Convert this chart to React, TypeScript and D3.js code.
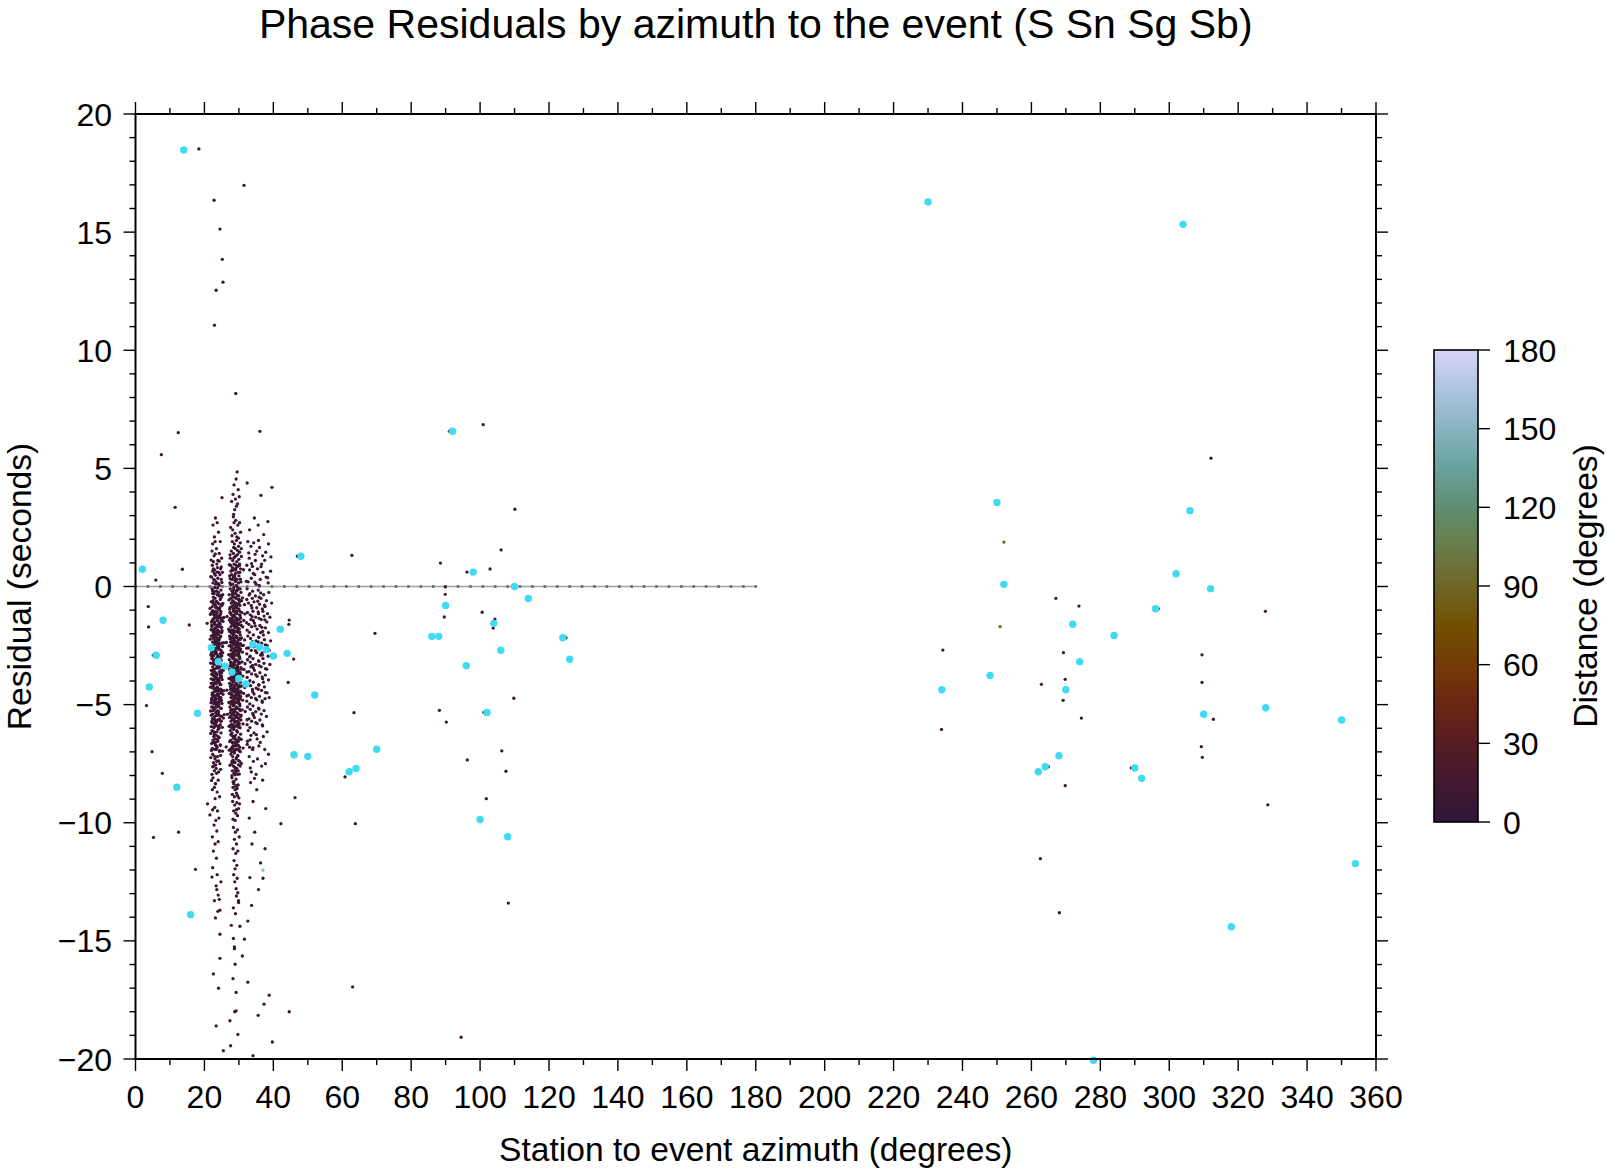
import React from "react";
import * as d3 from "d3";

// ---------------- DATA ----------------
// Dense cluster, column A (azimuth, residual) pairs
const clusterA = [
  23.2,2.9, 22.5,2.6, 24.1,2.3, 22.9,2.1, 23.7,2.7,
  22.4,1.8, 23.5,1.6, 24.6,1.9, 22.8,1.3, 23.9,1.1, 22.2,1.5, 24.3,1.4, 23.1,1.9, 25.0,1.2, 22.6,1.05,
  22.3,0.9, 23.0,0.7, 23.8,0.8, 24.5,0.5, 22.7,0.3, 23.4,0.2, 24.1,0.6, 22.1,0.4, 23.6,0.95, 24.9,0.3, 22.9,0.55, 23.3,0.1, 24.7,0.75, 22.5,0.15, 23.9,0.35, 25.2,0.6, 22.4,0.65, 24.3,0.05,
  22.2,-0.1, 22.8,-0.3, 23.5,-0.2, 24.2,-0.4, 24.8,-0.15, 22.5,-0.6, 23.1,-0.5, 23.9,-0.7, 24.6,-0.55, 22.3,-0.85, 23.3,-0.9, 24.0,-0.95, 25.1,-0.8, 22.6,-0.45, 23.7,-0.35, 24.4,-0.75, 22.0,-0.65, 23.0,-0.05, 24.9,-0.45, 23.6,-0.65, 22.9,-0.75, 24.1,-0.25, 22.4,-0.3, 25.3,-0.35, 23.2,-0.8, 24.5,-0.9,
  22.1,-1.1, 22.7,-1.2, 23.4,-1.05, 24.0,-1.3, 24.7,-1.15, 22.4,-1.4, 23.0,-1.5, 23.8,-1.45, 24.5,-1.6, 25.2,-1.35, 22.2,-1.7, 22.9,-1.8, 23.6,-1.65, 24.3,-1.9, 24.9,-1.75, 22.6,-1.95, 23.3,-1.3, 23.9,-1.85, 22.5,-1.05, 24.2,-1.55, 23.1,-1.25, 22.0,-1.5, 23.7,-1.1, 24.6,-1.25, 22.8,-1.6, 23.5,-1.9, 24.1,-1.7, 22.3,-1.85, 25.0,-1.95, 23.2,-1.75, 24.8,-1.45, 22.7,-1.35,
  22.0,-2.1, 22.6,-2.2, 23.2,-2.05, 23.9,-2.3, 24.5,-2.15, 25.1,-2.4, 22.3,-2.5, 22.9,-2.45, 23.5,-2.6, 24.2,-2.55, 24.8,-2.7, 22.1,-2.8, 22.7,-2.9, 23.4,-2.75, 24.0,-2.95, 24.6,-2.85, 23.0,-2.35, 23.7,-2.2, 22.5,-2.65, 24.3,-2.25, 22.8,-2.05, 23.6,-2.85, 24.9,-2.95, 22.4,-2.35, 23.1,-2.7, 23.8,-2.5, 24.4,-2.45, 22.2,-2.95, 23.3,-2.3, 24.7,-2.1, 22.9,-2.75, 23.5,-2.15, 24.1,-2.65, 22.6,-2.55, 25.3,-2.8,
  22.1,-3.05, 22.7,-3.15, 23.3,-3.1, 24.0,-3.25, 24.6,-3.2, 25.2,-3.35, 22.4,-3.4, 23.0,-3.5, 23.6,-3.45, 24.3,-3.6, 24.9,-3.55, 22.2,-3.7, 22.8,-3.8, 23.5,-3.75, 24.1,-3.9, 24.7,-3.85, 22.5,-3.95, 23.2,-3.65, 23.9,-3.3, 22.0,-3.55, 23.7,-3.95, 24.4,-3.15, 22.9,-3.3, 23.4,-3.85, 24.2,-3.45, 22.6,-3.6, 23.1,-3.9, 23.8,-3.05, 24.5,-3.75, 22.3,-3.25, 25.0,-3.65, 23.0,-3.2, 24.8,-3.1, 22.7,-3.5, 23.6,-3.7,
  22.0,-4.1, 22.6,-4.2, 23.2,-4.05, 23.9,-4.3, 24.5,-4.15, 25.1,-4.4, 22.3,-4.5, 22.9,-4.45, 23.5,-4.6, 24.2,-4.55, 24.8,-4.7, 22.1,-4.8, 22.7,-4.9, 23.4,-4.75, 24.0,-4.95, 24.6,-4.85, 23.0,-4.35, 23.7,-4.25, 22.5,-4.65, 24.3,-4.05, 22.8,-4.6, 23.6,-4.9, 24.9,-4.5, 22.4,-4.3, 23.1,-4.7, 23.8,-4.55, 24.4,-4.85, 22.2,-4.25, 23.3,-4.95, 24.7,-4.35, 22.9,-4.8, 23.5,-4.1, 24.1,-4.65,
  22.1,-5.1, 22.8,-5.2, 23.4,-5.05, 24.1,-5.3, 24.7,-5.15, 22.4,-5.4, 23.0,-5.5, 23.7,-5.45, 24.4,-5.6, 25.0,-5.5, 22.2,-5.7, 22.9,-5.8, 23.5,-5.75, 24.2,-5.9, 22.6,-5.95, 23.3,-5.35, 23.9,-5.65, 24.6,-5.85, 22.0,-5.45, 23.1,-5.9, 23.8,-5.25, 24.9,-5.7, 22.7,-5.6, 23.6,-5.1, 24.3,-5.45, 22.5,-5.25, 23.2,-5.65, 24.0,-5.95,
  22.2,-6.1, 22.9,-6.25, 23.6,-6.15, 24.3,-6.4, 22.5,-6.5, 23.2,-6.6, 23.9,-6.55, 24.6,-6.7, 22.3,-6.85, 23.0,-6.9, 23.7,-6.8, 24.4,-6.95, 22.7,-6.35, 23.4,-6.3, 24.0,-6.05, 22.1,-6.65, 23.5,-6.75, 24.8,-6.2, 22.8,-6.6, 23.1,-6.45,
  22.4,-7.1, 23.1,-7.3, 23.8,-7.2, 24.5,-7.5, 22.7,-7.6, 23.4,-7.7, 24.1,-7.85, 22.2,-7.95, 23.6,-7.4, 22.9,-7.8, 24.7,-7.15, 23.3,-7.55,
  22.5,-8.1, 23.2,-8.35, 24.0,-8.2, 22.3,-8.6, 23.7,-8.7, 24.4,-8.9, 22.9,-8.5, 23.1,-8.98,
  20.9,-9.2, 23.0,-9.35, 23.8,-9.5, 21.6,-9.67, 24.2,-9.8, 23.3,-9.9, 22.4,-9.45,
  22.8,-10.1, 23.6,-10.35, 22.3,-10.6, 24.0,-10.8, 23.1,-10.9,
  22.6,-11.2, 23.5,-11.5, 22.4,-11.9, 22.2,-12.3, 23.7,-12.2, 24.8,-12.5, 23.4,-12.67, 23.6,-12.83, 24.0,-13.06, 24.3,-13.24,
  23.2,-14.03, 24.5,-13.7, 23.9,-13.75, 24.5,-14.72, 24.5,-15.74, 22.9,-13.3,
  24.1,-17.0, 25.5,-19.65, 22.6,-16.4, 23.4,-18.6,
];

// Dense cluster, column B (azimuth, residual) pairs
const clusterB = [
  29.5,4.85, 29.2,4.55, 28.6,4.3, 29.8,4.1,
  28.3,3.9, 29.0,3.7, 29.6,3.5, 28.8,3.25, 30.1,3.8, 28.5,3.05, 29.3,3.4, 27.9,3.6,
  28.4,2.95, 29.1,2.8, 29.7,2.6, 28.2,2.4, 28.9,2.25, 30.2,2.7, 27.6,2.5, 29.4,2.1, 28.6,2.7, 30.5,2.3, 29.9,2.05, 28.0,2.15,
  28.1,1.9, 28.7,1.8, 29.3,1.95, 29.9,1.7, 30.4,1.85, 27.8,1.5, 28.4,1.4, 29.0,1.6, 29.6,1.35, 30.2,1.45, 27.5,1.2, 28.2,1.1, 28.8,1.25, 29.4,1.05, 30.0,1.15, 30.7,1.6, 28.5,1.65, 29.2,1.3,
  27.6,0.9, 28.1,0.8, 28.6,0.95, 29.1,0.7, 29.7,0.85, 30.3,0.6, 27.9,0.5, 28.4,0.4, 29.0,0.55, 29.5,0.3, 30.0,0.45, 30.6,0.2, 27.4,0.15, 28.2,0.1, 28.8,0.25, 29.3,0.05, 29.9,0.15, 30.5,0.75, 27.7,0.65, 28.5,0.7, 29.2,0.9, 29.8,0.6, 28.0,0.3, 28.9,0.35, 30.2,0.95, 27.3,0.45,
  27.5,-0.1, 28.0,-0.2, 28.5,-0.05, 29.0,-0.3, 29.5,-0.15, 30.0,-0.4, 30.6,-0.25, 27.7,-0.5, 28.2,-0.6, 28.7,-0.45, 29.2,-0.7, 29.8,-0.55, 30.3,-0.8, 27.4,-0.9, 27.9,-0.85, 28.4,-0.95, 28.9,-0.75, 29.4,-0.9, 30.0,-0.95, 30.8,-0.6, 28.1,-0.35, 28.6,-0.65, 29.1,-0.5, 29.6,-0.4, 30.4,-0.1, 27.8,-0.7, 28.3,-0.25, 28.8,-0.9, 29.3,-0.2, 29.9,-0.75, 27.2,-0.35, 30.1,-0.55, 28.5,-0.8, 29.7,-0.05,
  27.4,-1.1, 27.9,-1.2, 28.4,-1.05, 28.9,-1.3, 29.4,-1.15, 29.9,-1.4, 30.4,-1.25, 27.6,-1.5, 28.1,-1.6, 28.6,-1.45, 29.1,-1.7, 29.6,-1.55, 30.1,-1.8, 30.7,-1.65, 27.3,-1.9, 27.8,-1.85, 28.3,-1.95, 28.8,-1.75, 29.3,-1.9, 29.8,-1.95, 30.3,-1.05, 27.5,-1.35, 28.0,-1.4, 28.5,-1.65, 29.0,-1.55, 29.5,-1.35, 30.0,-1.6, 30.5,-1.5, 28.2,-1.85, 28.7,-1.2, 29.2,-1.1, 29.7,-1.75, 27.7,-1.7, 28.3,-1.3, 28.9,-1.9, 29.4,-1.45, 30.2,-1.2, 27.9,-1.55, 28.6,-1.0, 29.6,-1.85,
  27.3,-2.1, 27.8,-2.2, 28.3,-2.05, 28.8,-2.3, 29.3,-2.15, 29.8,-2.4, 30.3,-2.25, 30.8,-2.5, 27.5,-2.5, 28.0,-2.6, 28.5,-2.45, 29.0,-2.7, 29.5,-2.55, 30.0,-2.8, 30.5,-2.65, 27.4,-2.9, 27.9,-2.85, 28.4,-2.95, 28.9,-2.75, 29.4,-2.9, 29.9,-2.95, 30.4,-2.05, 27.6,-2.35, 28.1,-2.4, 28.6,-2.65, 29.1,-2.55, 29.6,-2.35, 30.1,-2.6, 28.2,-2.85, 28.7,-2.2, 29.2,-2.1, 29.7,-2.75, 27.7,-2.7, 28.3,-2.3, 28.9,-2.9, 29.4,-2.45, 30.2,-2.2, 27.9,-2.55, 28.6,-2.0, 29.6,-2.85, 28.0,-2.15, 29.0,-2.35, 29.9,-2.5, 28.5,-2.75,
  27.2,-3.1, 27.7,-3.2, 28.2,-3.05, 28.7,-3.3, 29.2,-3.15, 29.7,-3.4, 30.2,-3.25, 30.7,-3.5, 27.4,-3.5, 27.9,-3.6, 28.4,-3.45, 28.9,-3.7, 29.4,-3.55, 29.9,-3.8, 30.4,-3.65, 27.3,-3.9, 27.8,-3.85, 28.3,-3.95, 28.8,-3.75, 29.3,-3.9, 29.8,-3.95, 30.3,-3.05, 27.5,-3.35, 28.0,-3.4, 28.5,-3.65, 29.0,-3.55, 29.5,-3.35, 30.0,-3.6, 28.1,-3.85, 28.6,-3.2, 29.1,-3.1, 29.6,-3.75, 27.6,-3.7, 28.2,-3.3, 28.8,-3.9, 29.3,-3.45, 30.1,-3.2, 27.8,-3.55, 28.5,-3.0, 29.5,-3.85, 28.9,-3.15, 29.8,-3.5, 28.4,-3.75, 30.5,-3.9,
  27.3,-4.1, 27.8,-4.2, 28.3,-4.05, 28.8,-4.3, 29.3,-4.15, 29.8,-4.4, 30.3,-4.25, 30.8,-4.5, 27.5,-4.5, 28.0,-4.6, 28.5,-4.45, 29.0,-4.7, 29.5,-4.55, 30.0,-4.8, 30.5,-4.65, 27.4,-4.9, 27.9,-4.85, 28.4,-4.95, 28.9,-4.75, 29.4,-4.9, 29.9,-4.95, 30.4,-4.05, 27.6,-4.35, 28.1,-4.4, 28.6,-4.65, 29.1,-4.55, 29.6,-4.35, 30.1,-4.6, 28.2,-4.85, 28.7,-4.2, 29.2,-4.1, 29.7,-4.75, 27.7,-4.7, 28.3,-4.3, 28.9,-4.9, 29.4,-4.45, 30.2,-4.2, 27.9,-4.55, 28.6,-4.0, 29.6,-4.85, 28.0,-4.15, 29.0,-4.35, 29.9,-4.5, 28.5,-4.75,
  27.4,-5.1, 27.9,-5.2, 28.4,-5.05, 28.9,-5.3, 29.4,-5.15, 29.9,-5.4, 30.4,-5.25, 27.6,-5.5, 28.1,-5.6, 28.6,-5.45, 29.1,-5.7, 29.6,-5.55, 30.1,-5.8, 30.6,-5.65, 27.3,-5.9, 27.8,-5.85, 28.3,-5.95, 28.8,-5.75, 29.3,-5.9, 29.8,-5.95, 30.3,-5.05, 27.5,-5.35, 28.0,-5.4, 28.5,-5.65, 29.0,-5.55, 29.5,-5.35, 30.0,-5.6, 28.2,-5.85, 28.7,-5.2, 29.2,-5.1, 29.7,-5.75, 27.7,-5.7, 28.3,-5.3, 28.9,-5.9, 29.4,-5.45, 30.2,-5.2, 27.9,-5.55, 28.6,-5.0, 29.6,-5.85, 30.5,-5.5,
  27.5,-6.1, 28.0,-6.2, 28.5,-6.05, 29.0,-6.3, 29.5,-6.15, 30.0,-6.4, 30.5,-6.25, 27.7,-6.5, 28.2,-6.6, 28.7,-6.45, 29.2,-6.7, 29.7,-6.55, 30.2,-6.8, 27.6,-6.9, 28.1,-6.85, 28.6,-6.95, 29.1,-6.75, 29.6,-6.9, 30.1,-6.95, 28.3,-6.35, 28.8,-6.4, 29.3,-6.65, 29.8,-6.55, 27.9,-6.3, 28.4,-6.75, 28.9,-6.6, 29.4,-6.1, 30.3,-6.45, 28.0,-6.8, 29.0,-6.9,
  27.7,-7.1, 28.2,-7.2, 28.7,-7.05, 29.2,-7.3, 29.7,-7.15, 30.2,-7.4, 27.9,-7.5, 28.4,-7.6, 28.9,-7.45, 29.4,-7.7, 29.9,-7.55, 28.1,-7.8, 28.6,-7.9, 29.1,-7.85, 29.6,-7.95, 28.3,-7.35, 28.8,-7.65, 29.3,-7.25, 29.8,-7.8, 28.0,-7.4, 29.0,-7.75, 30.4,-7.6,
  28.0,-8.1, 28.6,-8.25, 29.2,-8.15, 29.8,-8.4, 28.3,-8.5, 28.9,-8.6, 29.5,-8.55, 28.1,-8.8, 28.7,-8.9, 29.3,-8.75, 30.0,-8.95, 28.5,-8.35, 29.1,-8.45, 29.6,-8.85,
  28.2,-9.1, 28.8,-9.25, 29.4,-9.15, 29.9,-9.4, 28.5,-9.5, 29.1,-9.6, 29.6,-9.7, 28.3,-9.85, 28.9,-9.9, 29.3,-9.45, 30.2,-9.2,
  28.4,-10.2, 29.0,-10.4, 29.6,-10.3, 28.7,-10.7, 29.3,-10.9, 28.3,-11.1, 29.1,-11.3, 29.7,-11.2, 28.6,-11.6, 29.4,-11.8, 28.9,-11.95, 30.1,-10.6,
  29.2,-12.79, 29.7,-12.96, 29.3,-13.1, 29.9,-13.3, 29.9,-13.38, 28.5,-12.2, 28.8,-12.5, 29.5,-12.35, 28.4,-13.6, 29.0,-13.85,
  27.8,-14.34, 30.3,-14.38, 28.4,-14.9, 31.6,-14.93, 28.7,-15.25, 28.7,-15.33, 28.9,-15.99, 31.0,-15.64,
  29.2,-17.18, 28.8,-18.0, 29.2,-17.96, 27.4,-18.38, 29.7,-18.96, 27.6,-19.44, 28.3,-16.6,
];

// Dense cluster, column C (azimuth, residual) pairs
const clusterC = [
  32.4,4.38, 36.4,3.86, 39.6,4.2, 34.5,2.9, 35.6,2.6, 33.1,2.4, 37.2,2.2, 38.4,2.75,
  32.6,1.9, 33.5,1.7, 34.3,1.85, 35.2,1.5, 36.0,1.65, 36.9,1.3, 37.8,1.45, 33.0,1.2, 34.8,1.1, 38.6,1.8, 35.7,1.95, 39.3,1.25,
  32.3,0.9, 33.1,0.7, 33.9,0.85, 34.6,0.5, 35.4,0.75, 36.2,0.3, 37.0,0.6, 37.9,0.4, 32.7,0.2, 33.6,0.35, 35.0,0.1, 36.6,0.95, 38.5,0.15, 34.2,0.55, 39.2,0.65, 35.9,0.05,
  32.4,-0.1, 33.2,-0.3, 34.0,-0.2, 34.8,-0.4, 35.6,-0.15, 36.4,-0.5, 37.2,-0.35, 38.0,-0.6, 32.8,-0.7, 33.6,-0.8, 34.4,-0.65, 35.2,-0.9, 36.0,-0.75, 36.8,-0.95, 37.6,-0.85, 38.7,-0.25, 33.9,-0.5, 35.9,-0.45, 39.5,-0.7, 32.3,-0.55,
  32.5,-1.1, 33.3,-1.2, 34.1,-1.05, 34.9,-1.3, 35.7,-1.15, 36.5,-1.4, 37.3,-1.25, 38.1,-1.5, 32.9,-1.6, 33.7,-1.7, 34.5,-1.55, 35.3,-1.8, 36.1,-1.65, 36.9,-1.9, 37.7,-1.75, 38.6,-1.95, 32.4,-1.85, 34.2,-1.45, 35.9,-1.35, 37.0,-1.05, 39.0,-1.3, 33.5,-1.4, 36.3,-1.95, 38.3,-1.15,
  32.6,-2.1, 33.4,-2.2, 34.2,-2.05, 35.0,-2.3, 35.8,-2.15, 36.6,-2.4, 37.4,-2.25, 38.2,-2.5, 32.8,-2.6, 33.6,-2.7, 34.4,-2.55, 35.2,-2.8, 36.0,-2.65, 36.8,-2.9, 37.6,-2.75, 38.5,-2.95, 32.3,-2.85, 34.0,-2.45, 35.6,-2.35, 37.1,-2.05, 39.2,-2.3, 33.3,-2.95, 36.3,-2.9, 38.8,-2.7,
  32.5,-3.1, 33.3,-3.2, 34.1,-3.05, 34.9,-3.3, 35.7,-3.15, 36.5,-3.4, 37.3,-3.25, 38.1,-3.5, 32.9,-3.6, 33.7,-3.7, 34.5,-3.55, 35.3,-3.8, 36.1,-3.65, 36.9,-3.9, 37.7,-3.75, 38.6,-3.95, 32.4,-3.85, 34.2,-3.45, 35.9,-3.35, 37.0,-3.05, 39.0,-3.3, 33.5,-3.4,
  32.6,-4.1, 33.4,-4.2, 34.2,-4.05, 35.0,-4.3, 35.8,-4.15, 36.6,-4.4, 37.4,-4.25, 38.2,-4.5, 32.8,-4.6, 33.6,-4.7, 34.4,-4.55, 35.2,-4.8, 36.0,-4.65, 36.8,-4.9, 37.6,-4.75, 32.3,-4.85, 34.0,-4.45, 35.6,-4.35, 37.1,-4.05, 38.8,-4.7,
  32.5,-5.1, 33.3,-5.2, 34.1,-5.05, 34.9,-5.3, 35.7,-5.15, 36.5,-5.4, 37.3,-5.25, 32.9,-5.6, 33.7,-5.7, 34.5,-5.55, 35.3,-5.8, 36.1,-5.65, 36.9,-5.9, 38.0,-5.5, 32.4,-5.85, 34.2,-5.45,
  32.7,-6.1, 33.5,-6.3, 34.4,-6.2, 35.3,-6.45, 36.2,-6.6, 37.1,-6.35, 33.1,-6.8, 34.0,-6.9, 35.8,-6.75, 37.5,-6.9, 32.5,-6.55, 38.2,-6.15,
  33.0,-7.2, 34.2,-7.4, 35.4,-7.3, 36.6,-7.6, 33.6,-7.85, 35.0,-7.95, 37.7,-7.5, 38.6,-7.1,
  33.4,-8.3, 35.2,-8.6, 36.9,-8.2, 34.1,-9.1, 37.8,-9.4, 33.0,-9.8,
  35.7,-12.83, 37.0,-12.35, 33.2,-12.32, 34.6,-10.4, 37.6,-11.1, 36.3,-11.7, 33.8,-10.9,
  32.6,-14.16, 32.6,-16.75, 38.8,-17.3, 37.3,-17.68, 35.6,-18.15, 34.1,-19.86, 39.7,-19.28, 33.7,-13.5,
];

// Additional cluster points across all three columns (azimuth, residual)
const clusterFill = [
  21.96,1.12, 22.57,0.74, 23.14,1.38, 23.71,0.61, 24.28,1.07, 24.88,0.83, 27.21,0.92, 27.44,1.34, 27.97,0.68, 28.53,1.21, 29.09,0.77, 29.64,1.52, 30.19,0.89, 30.73,1.27, 31.34,0.71, 32.86,1.42, 33.69,0.97, 34.71,1.36, 36.42,0.84, 37.49,1.11,
  21.85,0.42, 22.37,-0.18, 22.93,0.27, 23.48,-0.63, 24.06,0.12, 24.72,-0.38, 25.34,-0.72, 22.71,-0.21, 27.48,0.33, 27.12,-0.57, 27.63,0.08, 28.27,-0.43, 28.74,0.46, 29.38,-0.82, 29.86,-0.12, 30.44,0.31, 31.07,-0.48, 31.62,-0.77, 32.18,0.22, 32.97,-0.36, 33.78,-0.91, 34.67,0.18, 35.48,-0.62, 36.33,-0.27, 37.44,-0.79, 38.36,0.37, 21.64,-0.93, 22.61,-0.71, 23.17,0.48, 23.83,-0.06, 24.38,-0.99, 25.07,0.17, 23.61,-0.88, 28.12,-0.33, 27.37,-0.96, 28.03,-0.69, 28.51,-0.14, 29.04,0.21, 29.61,-0.37, 30.17,-0.66,
  21.72,-1.18, 22.26,-1.47, 22.84,-1.12, 23.39,-1.76, 23.96,-1.23, 24.55,-1.58, 25.13,-1.87, 25.68,-1.31, 24.22,-1.66, 29.11,-1.09, 27.24,-1.42, 27.81,-1.97, 28.35,-1.27, 28.92,-1.61, 29.47,-1.03, 29.98,-1.79, 30.53,-1.34, 31.12,-1.71, 31.74,-1.16, 32.23,-1.53, 33.06,-1.94, 33.84,-1.28, 34.73,-1.67, 35.61,-1.08, 36.68,-1.73, 37.53,-1.41, 21.93,-1.83, 22.47,-1.02, 23.06,-1.59, 23.61,-1.36, 24.23,-1.94, 24.81,-1.06, 25.42,-1.48, 23.51,-1.96, 26.58,-1.27, 27.06,-1.81, 27.57,-1.14, 28.14,-1.52, 28.63,-1.89, 29.21,-1.38, 29.73,-1.62, 30.29,-1.93, 30.86,-1.11, 31.43,-1.44, 22.14,-1.63, 22.72,-1.88, 23.27,-1.21, 23.74,-1.93, 24.44,-1.33, 25.01,-1.72,
  21.68,-2.23, 22.19,-2.56, 22.77,-2.12, 23.31,-2.84, 23.88,-2.31, 24.47,-2.67, 25.04,-2.93, 25.59,-2.38, 22.56,-2.74, 28.71,-2.17, 27.18,-2.51, 27.72,-2.96, 28.29,-2.36, 28.83,-2.69, 29.36,-2.11, 29.91,-2.87, 30.48,-2.42, 31.04,-2.78, 31.66,-2.26, 32.28,-2.61, 33.12,-2.98, 33.91,-2.33, 34.81,-2.72, 35.72,-2.14, 36.71,-2.81, 37.68,-2.47, 21.87,-2.89, 22.43,-2.07, 22.99,-2.64, 23.56,-2.41, 24.14,-2.99, 24.68,-2.13, 25.27,-2.54, 24.03,-2.03, 26.37,-2.37, 27.03,-2.88, 27.46,-2.21, 28.01,-2.58, 28.56,-2.92, 29.11,-2.44, 29.67,-2.68, 30.22,-2.97, 30.76,-2.18, 31.31,-2.49, 22.08,-2.71, 22.66,-2.94, 23.21,-2.28, 23.77,-2.97, 24.33,-2.39, 24.93,-2.79, 27.84,-2.32, 28.44,-2.83, 29.27,-2.57, 29.82,-2.24, 30.37,-2.71,
  21.77,-3.24, 22.29,-3.57, 22.86,-3.13, 23.42,-3.86, 23.99,-3.32, 24.58,-3.68, 25.16,-3.94, 25.72,-3.39, 22.64,-3.76, 28.84,-3.18, 27.28,-3.52, 27.86,-3.97, 28.39,-3.37, 28.96,-3.71, 29.52,-3.12, 30.04,-3.88, 30.61,-3.43, 31.16,-3.79, 31.79,-3.27, 32.34,-3.62, 33.19,-3.99, 33.97,-3.34, 34.88,-3.73, 35.79,-3.16, 36.77,-3.83, 37.72,-3.48, 21.96,-3.91, 22.52,-3.08, 23.09,-3.66, 23.64,-3.42, 24.26,-3.98, 24.86,-3.14, 25.47,-3.55, 23.54,-3.04, 26.62,-3.38, 27.14,-3.89, 27.61,-3.22, 28.18,-3.59, 28.68,-3.93, 29.26,-3.46, 29.78,-3.69, 30.33,-3.96, 30.91,-3.19, 31.47,-3.51, 22.17,-3.72, 22.76,-3.95, 23.33,-3.29, 23.81,-3.98, 24.41,-3.41, 24.97,-3.81, 27.91,-3.33, 28.49,-3.84, 29.32,-3.58, 29.88,-3.25, 30.42,-3.73,
  21.74,-4.26, 22.24,-4.58, 22.81,-4.14, 23.37,-4.87, 23.93,-4.33, 24.52,-4.69, 25.11,-4.95, 25.66,-4.41, 24.21,-4.77, 29.56,-4.19, 27.22,-4.53, 27.79,-4.98, 28.33,-4.38, 28.89,-4.72, 29.43,-4.13, 29.96,-4.89, 30.51,-4.44, 31.09,-4.81, 31.71,-4.28, 32.31,-4.63, 33.16,-4.97, 33.94,-4.36, 34.84,-4.74, 35.76,-4.18, 36.74,-4.84, 37.71,-4.49, 21.91,-4.92, 22.49,-4.09, 23.03,-4.67, 23.59,-4.43, 24.19,-4.99, 24.77,-4.15, 25.38,-4.56, 23.86,-4.06, 26.53,-4.39, 27.09,-4.91, 27.54,-4.23, 28.12,-4.61, 28.61,-4.94, 29.18,-4.47, 29.71,-4.71, 30.26,-4.97, 30.83,-4.21, 31.38,-4.52, 22.11,-4.74, 22.69,-4.96, 23.24,-4.31, 23.79,-4.99, 24.36,-4.42, 24.94,-4.82, 27.87,-4.34, 28.46,-4.86, 29.29,-4.59, 29.84,-4.26, 30.39,-4.74,
  21.79,-5.27, 22.33,-5.59, 22.88,-5.15, 23.44,-5.88, 24.02,-5.34, 24.61,-5.69, 25.19,-5.96, 25.74,-5.42, 22.44,-5.78, 28.87,-5.21, 27.31,-5.54, 27.89,-5.98, 28.42,-5.39, 28.99,-5.73, 29.55,-5.14, 30.07,-5.91, 30.64,-5.45, 31.19,-5.82, 31.83,-5.29, 32.37,-5.64, 33.21,-5.97, 34.02,-5.37, 34.92,-5.76, 35.84,-5.19, 36.81,-5.86, 21.98,-5.93, 22.55,-5.11, 23.12,-5.68, 23.67,-5.44, 24.29,-5.99, 24.89,-5.16, 25.51,-5.57, 24.07,-5.07, 26.66,-5.41, 27.17,-5.92, 27.64,-5.24, 28.21,-5.61, 28.71,-5.95, 29.29,-5.48, 29.81,-5.71, 30.36,-5.98, 30.94,-5.22, 22.21,-5.76, 22.79,-5.97, 23.36,-5.31,
  21.83,-6.22, 22.36,-6.61, 22.92,-6.18, 23.47,-6.89, 24.04,-6.36, 24.63,-6.72, 25.21,-6.97, 26.31,-6.79, 27.34,-6.56, 27.92,-6.99, 28.45,-6.41, 29.01,-6.74, 29.58,-6.16, 30.09,-6.92, 30.67,-6.47, 31.22,-6.84, 32.41,-6.68, 33.26,-6.49, 34.11,-6.83, 35.06,-6.27, 22.01,-6.94, 22.58,-6.13, 23.15,-6.71, 23.71,-6.47, 24.32,-6.98, 27.19,-6.93, 27.67,-6.26, 28.24,-6.63, 28.77,-6.96, 29.33,-6.49, 29.86,-6.73, 30.41,-6.99,
  21.88,-7.24, 22.41,-7.63, 22.97,-7.19, 23.52,-7.91, 24.11,-7.38, 24.69,-7.74, 27.41,-7.57, 27.98,-8.01, 28.52,-7.43, 29.07,-7.76, 29.63,-7.18, 30.14,-7.94, 30.71,-7.49, 33.31,-7.68, 34.52,-8.12, 22.07,-8.21, 22.63,-7.46, 23.19,-8.34, 28.31,-8.27, 28.84,-7.97, 29.41,-8.42, 29.93,-7.37,
];

// Isolated small points (azimuth, residual)
const scatteredPts = [
  3.2,-5.04, 4.8,-6.99, 7.8,-7.91, 5.2,-10.62, 12.5,-10.4, 17.4,-11.97, 12.4,6.51, 36.1,6.57, 7.5,5.58,
  11.5,3.35, 13.6,0.73, 5.9,0.27, 3.7,-0.85, 3.8,-1.71, 15.6,-1.63, 5.2,-2.91, 20.8,-1.56,
  18.4,18.52, 31.5,16.98, 22.8,16.35, 24.5,15.13, 25.2,13.85, 25.4,12.88, 23.4,12.54, 22.9,11.06,
  29.1,8.17, 25.1,3.76, 47.0,1.28, 44.3,-4.06, 45.9,-3.07, 44.6,-1.42, 44.5,-1.6, 46.3,-8.94,
  42.2,-10.04, 44.6,-18.0, 62.8,1.32, 69.5,-1.98, 63.4,-5.34, 60.8,-8.06, 63.8,-10.04, 63.0,-16.95,
  91.1,6.57, 100.9,6.85, 110.1,3.27, 106.1,1.55, 102.9,0.74, 96.2,0.61, 88.5,0.99, 89.9,-0.02,
  89.9,-0.33, 89.6,-1.29, 100.6,-1.09, 104.3,-1.38, 103.8,-1.76, 124.9,-2.17, 109.8,-4.73,
  101.1,-5.33, 88.2,-5.24, 90.2,-5.74, 106.3,-6.96, 96.3,-7.34, 107.5,-7.82, 101.8,-8.98,
  108.2,-13.4, 94.5,-19.08,
  267.1,-0.5, 273.8,-0.83, 296.8,-0.94, 327.9,-1.05, 234.3,-2.69, 269.3,-2.8, 309.5,-2.89,
  262.9,-4.14, 269.8,-3.93, 269.2,-4.82, 309.5,-4.06, 312.8,-5.62, 274.5,-5.57, 233.9,-6.05,
  309.3,-6.78, 309.6,-7.23, 264.9,-7.63, 269.8,-8.43, 289.0,-7.68, 328.6,-9.24, 262.6,-11.52,
  268.1,-13.81, 312.1,5.43,
];
const scatteredDistance = 10; // degrees, dark end of the colour scale

// Points with other distances: azimuth, residual, distance
const farAz = [252.0, 250.9, 37.0];
const farRes = [1.88, -1.7, -12.01];
const farDist = [86, 88, 155];

// Highlighted (cyan) points
const cyanAz = [14, 2, 48, 8, 6, 4, 22, 24, 26, 28, 30, 32, 34, 36, 38, 40, 42, 44, 52, 18, 46, 50, 12, 16,
  92, 98, 110, 114, 90, 104, 86, 88, 124, 106, 126, 96, 102, 70, 62, 64, 100, 108,
  230, 304, 250, 306, 252, 302, 312, 296, 272, 284, 274, 248, 234, 270, 328, 310, 350, 268, 264, 262, 290, 292, 354, 318, 278];
const cyanRes = [18.48, 0.73, 1.28, -1.43, -2.91, -4.25, -2.59, -3.18, -3.37, -3.62, -3.89, -4.13, -2.45, -2.56, -2.67, -2.94, -1.81, -2.83, -4.59, -5.37, -7.12, -7.19, -8.5, -13.89,
  6.57, 0.61, 0.0, -0.51, -0.8, -1.56, -2.11, -2.11, -2.17, -2.7, -3.08, -3.35, -5.33, -6.89, -7.84, -7.7, -9.86, -10.59,
  16.28, 15.33, 3.56, 3.21, 0.09, 0.54, -0.09, -0.94, -1.6, -2.07, -3.18, -3.77, -4.37, -4.37, -5.13, -5.41, -5.65, -7.16, -7.63, -7.84, -7.68, -8.12, -11.73, -14.4, -20.05];

// Zero reference line markers (azimuth)
const zeroLineAz = [0, 3.6, 7.2, 10.8, 14.4, 18, 21.6, 25.2, 28.8, 32.4, 36, 39.6, 43.2, 46.8, 50.4, 54, 57.6, 61.2,
  64.8, 68.4, 72, 75.6, 79.2, 82.8, 86.4, 90, 93.6, 97.2, 100.8, 104.4, 108, 111.6, 115.2, 118.8, 122.4, 126,
  129.6, 133.2, 136.8, 140.4, 144, 147.6, 151.2, 154.8, 158.4, 162, 165.6, 169.2, 172.8, 176.4, 180];

// Axis ticks
const xMajorTicks = [0, 20, 40, 60, 80, 100, 120, 140, 160, 180, 200, 220, 240, 260, 280, 300, 320, 340, 360];
const xMinorTicks = [10, 30, 50, 70, 90, 110, 130, 150, 170, 190, 210, 230, 250, 270, 290, 310, 330, 350];
const yMajorTicks = [-20, -15, -10, -5, 0, 5, 10, 15, 20];
const yMinorTicks = [-19, -18, -17, -16, -14, -13, -12, -11, -9, -8, -7, -6, -4, -3, -2, -1, 1, 2, 3, 4, 6, 7, 8, 9, 11, 12, 13, 14, 16, 17, 18, 19];

// Colour bar
const cbarTicks = [0, 30, 60, 90, 120, 150, 180];
const cbarStopValues = [0, 15, 30, 45, 60, 75, 90, 105, 120, 135, 150, 165, 180];
const cbarStopColors = ["#30163a", "#42182f", "#561c22", "#6a2612", "#743a06", "#715000", "#6f6628",
  "#6a7c48", "#5f8e70", "#68a29c", "#88b4c0", "#aec4e0", "#d8d4fa"];

const FONT = "'Liberation Sans', Arial, Helvetica, sans-serif";

function pairs(a: number[]): [number, number][] {
  const out: [number, number][] = [];
  for (let i = 0; i + 1 < a.length; i += 2) out.push([a[i], a[i + 1]]);
  return out;
}

export default function App() {
  const W = 1607, H = 1169;
  const x = d3.scaleLinear().domain([0, 360]).range([135.5, 1376]);
  const y = d3.scaleLinear().domain([-20, 20]).range([1059, 114]);
  const color = d3.scaleLinear<string>().domain(cbarStopValues).range(cbarStopColors).interpolate(d3.interpolateRgb);
  const cb = d3.scaleLinear().domain([0, 180]).range([822, 350]);
  const cbX0 = 1434, cbX1 = 1478;

  const [x0, x1] = x.range();
  const [yb, yt] = y.range();

  const dark = [
    ...pairs(clusterA), ...pairs(clusterB), ...pairs(clusterC), ...pairs(clusterFill), ...pairs(scatteredPts),
  ];
  const darkColor = color(scatteredDistance);

  const zeroLine = d3.line<number>().x((d) => x(d)).y(() => y(0));
  const TICK = 32, LAB = 33.6;

  return (
    <svg width={W} height={H} style={{ position: "absolute", left: 0, top: 0, background: "#fff" }} fontFamily={FONT}>
      <defs>
        <linearGradient id="cbar" x1="0" y1="1" x2="0" y2="0">
          {cbarStopValues.map((v, i) => (
            <stop key={i} offset={`${(v / 180) * 100}%`} stopColor={cbarStopColors[i]} />
          ))}
        </linearGradient>
        <clipPath id="plotclip">
          <rect x={x0} y={yt} width={x1 - x0} height={yb - yt} />
        </clipPath>
      </defs>
      <rect x={0} y={0} width={W} height={H} fill="#fff" />

      {/* Title */}
      <text x={(x0 + x1) / 2} y={37.5} textAnchor="middle" fontSize={41} fill="#000">
        Phase Residuals by azimuth to the event (S Sn Sg Sb)
      </text>

      {/* zero line and small points */}
      <g clipPath="url(#plotclip)">
        <path d={zeroLine(zeroLineAz) || ""} stroke="#a0a0a0" strokeWidth={1.3} fill="none" />
        {zeroLineAz.map((a, i) => (
          <rect key={i} x={x(a) - 1.3} y={y(0) - 1.3} width={2.6} height={2.6} fill="#676767" />
        ))}
        {dark.map(([a, r], i) => (
          <circle key={i} cx={x(a)} cy={y(r)} r={1.65} fill={darkColor} />
        ))}
        {farAz.map((a, i) => (
          <circle key={i} cx={x(a)} cy={y(farRes[i])} r={1.65} fill={color(farDist[i])} />
        ))}
      </g>
      {cyanAz.map((a, i) => (
        <circle key={i} cx={x(a)} cy={y(cyanRes[i])} r={3.7} fill="#40daf2" />
      ))}

      {/* Frame */}
      <rect x={x0} y={yt} width={x1 - x0} height={yb - yt} fill="none" stroke="#000" strokeWidth={2} />

      {/* X ticks bottom + top */}
      {xMajorTicks.map((t) => (
        <g key={`xm${t}`}>
          <line x1={x(t)} x2={x(t)} y1={yb} y2={yb + 12} stroke="#000" strokeWidth={1.4} />
          <line x1={x(t)} x2={x(t)} y1={yt} y2={yt - 12} stroke="#000" strokeWidth={1.4} />
          <text x={x(t)} y={1108} textAnchor="middle" fontSize={TICK} fill="#000">{t}</text>
        </g>
      ))}
      {xMinorTicks.map((t) => (
        <g key={`xn${t}`}>
          <line x1={x(t)} x2={x(t)} y1={yb} y2={yb + 6} stroke="#000" strokeWidth={1.4} />
          <line x1={x(t)} x2={x(t)} y1={yt} y2={yt - 6} stroke="#000" strokeWidth={1.4} />
        </g>
      ))}

      {/* Y ticks left + right */}
      {yMajorTicks.map((t) => (
        <g key={`ym${t}`}>
          <line x1={x0} x2={x0 - 12} y1={y(t)} y2={y(t)} stroke="#000" strokeWidth={1.4} />
          <line x1={x1} x2={x1 + 12} y1={y(t)} y2={y(t)} stroke="#000" strokeWidth={1.4} />
          <text x={112} y={y(t) + 11.5} textAnchor="end" fontSize={TICK} fill="#000">
            {t < 0 ? `\u2212${Math.abs(t)}` : `${t}`}
          </text>
        </g>
      ))}
      {yMinorTicks.map((t) => (
        <g key={`yn${t}`}>
          <line x1={x0} x2={x0 - 6} y1={y(t)} y2={y(t)} stroke="#000" strokeWidth={1.4} />
          <line x1={x1} x2={x1 + 6} y1={y(t)} y2={y(t)} stroke="#000" strokeWidth={1.4} />
        </g>
      ))}

      {/* Axis titles */}
      <text x={(x0 + x1) / 2} y={1161} textAnchor="middle" fontSize={LAB} fill="#000">
        Station to event azimuth (degrees)
      </text>
      <text transform={`translate(31, ${(yt + yb) / 2}) rotate(-90)`} textAnchor="middle" fontSize={LAB} fill="#000">
        Residual (seconds)
      </text>

      {/* Colour bar */}
      <rect x={cbX0} y={cb(180)} width={cbX1 - cbX0} height={cb(0) - cb(180)} fill="url(#cbar)" stroke="#000" strokeWidth={1.6} />
      {cbarTicks.map((t) => (
        <g key={`cb${t}`}>
          <line x1={cbX1} x2={cbX1 + 12} y1={cb(t)} y2={cb(t)} stroke="#000" strokeWidth={1.4} />
          <text x={1503} y={cb(t) + 11.5} textAnchor="start" fontSize={TICK} fill="#000">{t}</text>
        </g>
      ))}
      <text transform={`translate(1597, ${(cb(0) + cb(180)) / 2}) rotate(-90)`} textAnchor="middle" fontSize={LAB} fill="#000">
        Distance (degrees)
      </text>
    </svg>
  );
}
